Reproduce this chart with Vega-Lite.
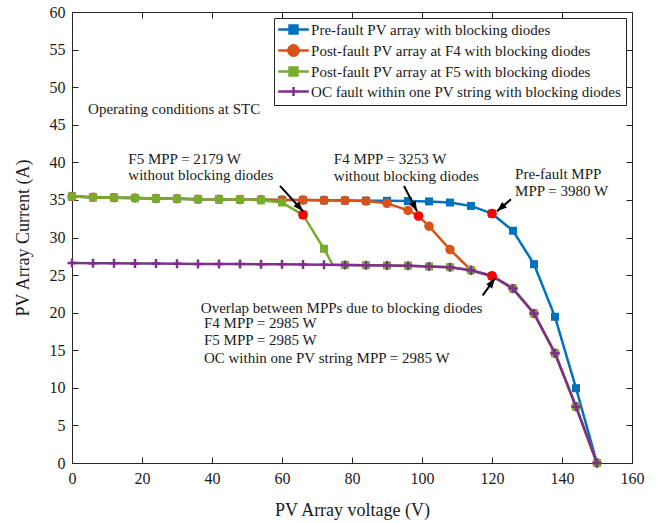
{
  "$schema": "https://vega.github.io/schema/vega-lite/v6.json",
  "width": 560,
  "height": 451,
  "autosize": {"type": "none"},
  "padding": {"left": 72, "top": 12, "right": 29, "bottom": 60},
  "background": "white",
  "config": {
    "font": "Liberation Serif",
    "view": {"stroke": "#262626", "strokeWidth": 1},
    "axis": {
      "labelFont": "Liberation Serif",
      "labelFontSize": 16,
      "labelColor": "#1a1a1a",
      "labelFlush": false,
      "titleFont": "Liberation Serif",
      "titleFontSize": 18,
      "titleFontWeight": "normal",
      "titleColor": "#1a1a1a",
      "gridColor": "#d9d9d9",
      "gridWidth": 1,
      "tickColor": "#262626",
      "domainColor": "#262626",
      "tickSize": -6,
      "labelPadding": 13,
      "zindex": 0
    },
    "legend": {
      "orient": "top-right",
      "offset": 6,
      "fillColor": "white",
      "strokeColor": "#262626",
      "padding": 4,
      "rowPadding": 1,
      "labelFont": "Liberation Serif",
      "labelFontSize": 15,
      "labelColor": "#1a1a1a",
      "labelLimit": 0,
      "symbolSize": 150,
      "symbolStrokeWidth": 2.5,
      "symbolOffset": 8,
      "labelOffset": 10.1
    }
  },
  "datasets": {
    "prefault": [
      {"V": 0, "I": 35.45}, {"V": 6, "I": 35.35}, {"V": 12, "I": 35.3}, {"V": 18, "I": 35.25},
      {"V": 24, "I": 35.2}, {"V": 30, "I": 35.15}, {"V": 36, "I": 35.1}, {"V": 42, "I": 35.08},
      {"V": 48, "I": 35.05}, {"V": 54, "I": 35.02}, {"V": 60, "I": 35.0}, {"V": 66, "I": 34.98},
      {"V": 72, "I": 34.95}, {"V": 78, "I": 34.93}, {"V": 84, "I": 34.9}, {"V": 90, "I": 34.88},
      {"V": 96, "I": 34.85}, {"V": 102, "I": 34.8}, {"V": 108, "I": 34.65}, {"V": 114, "I": 34.2},
      {"V": 120, "I": 33.17}, {"V": 126, "I": 30.9}, {"V": 132, "I": 26.45}, {"V": 138, "I": 19.45},
      {"V": 144, "I": 9.95}, {"V": 150, "I": 0}
    ],
    "f4": [
      {"V": 0, "I": 35.45}, {"V": 6, "I": 35.35}, {"V": 12, "I": 35.3}, {"V": 18, "I": 35.25},
      {"V": 24, "I": 35.2}, {"V": 30, "I": 35.15}, {"V": 36, "I": 35.1}, {"V": 42, "I": 35.08},
      {"V": 48, "I": 35.05}, {"V": 54, "I": 35.02}, {"V": 60, "I": 35.0}, {"V": 66, "I": 34.98},
      {"V": 72, "I": 34.95}, {"V": 78, "I": 34.92}, {"V": 84, "I": 34.85}, {"V": 90, "I": 34.55},
      {"V": 96, "I": 33.6}, {"V": 99, "I": 32.86}, {"V": 102, "I": 31.5}, {"V": 108, "I": 28.4},
      {"V": 114, "I": 25.65}, {"V": 120, "I": 24.875}, {"V": 126, "I": 23.2}, {"V": 132, "I": 19.9},
      {"V": 138, "I": 14.6}, {"V": 144, "I": 7.5}, {"V": 150, "I": 0}
    ],
    "f5": [
      {"V": 0, "I": 35.45}, {"V": 6, "I": 35.35}, {"V": 12, "I": 35.3}, {"V": 18, "I": 35.25},
      {"V": 24, "I": 35.2}, {"V": 30, "I": 35.15}, {"V": 36, "I": 35.1}, {"V": 42, "I": 35.08},
      {"V": 48, "I": 35.05}, {"V": 54, "I": 34.95}, {"V": 60, "I": 34.65}, {"V": 66, "I": 33.02},
      {"V": 72, "I": 28.5}, {"V": 74.5, "I": 26.37}, {"V": 78, "I": 26.35}, {"V": 84, "I": 26.32},
      {"V": 90, "I": 26.28}, {"V": 96, "I": 26.25}, {"V": 102, "I": 26.15}, {"V": 108, "I": 26.05},
      {"V": 114, "I": 25.65}, {"V": 120, "I": 24.875}, {"V": 126, "I": 23.2}, {"V": 132, "I": 19.9},
      {"V": 138, "I": 14.6}, {"V": 144, "I": 7.5}, {"V": 150, "I": 0}
    ],
    "oc": [
      {"V": 0, "I": 26.6}, {"V": 6, "I": 26.58}, {"V": 12, "I": 26.57}, {"V": 18, "I": 26.55},
      {"V": 24, "I": 26.53}, {"V": 30, "I": 26.5}, {"V": 36, "I": 26.49}, {"V": 42, "I": 26.47},
      {"V": 48, "I": 26.46}, {"V": 54, "I": 26.45}, {"V": 60, "I": 26.43}, {"V": 66, "I": 26.4},
      {"V": 72, "I": 26.38}, {"V": 78, "I": 26.35}, {"V": 84, "I": 26.32}, {"V": 90, "I": 26.28},
      {"V": 96, "I": 26.25}, {"V": 102, "I": 26.15}, {"V": 108, "I": 26.05}, {"V": 114, "I": 25.65},
      {"V": 120, "I": 24.875}, {"V": 126, "I": 23.2}, {"V": 132, "I": 19.9}, {"V": 138, "I": 14.6},
      {"V": 144, "I": 7.5}, {"V": 150, "I": 0}
    ],
    "mpp": [
      {"V": 66, "I": 33.02},
      {"V": 99, "I": 32.86},
      {"V": 120, "I": 33.17},
      {"V": 120, "I": 24.875}
    ],
    "boxes": [
      {"x1": 2.5, "x2": 55.5, "y1": 48.7, "y2": 45.3},
      {"x1": 14.6, "x2": 49.5, "y1": 41.75, "y2": 39.3},
      {"x1": 14.6, "x2": 58.0, "y1": 39.3, "y2": 37.1},
      {"x1": 73.7, "x2": 116.6, "y1": 41.75, "y2": 37.1},
      {"x1": 123.7, "x2": 154.3, "y1": 39.9, "y2": 34.7},
      {"x1": 32.6, "x2": 117.1, "y1": 22.15, "y2": 12.85}
    ],
    "notes": [
      {"text": "Operating conditions at STC", "x": 4.6, "y": 47.07},
      {"text": "F5 MPP = 2179 W", "x": 16.1, "y": 40.5},
      {"text": "without blocking diodes", "x": 16.1, "y": 38.28},
      {"text": "F4 MPP = 3253 W", "x": 74.8, "y": 40.4},
      {"text": "without blocking diodes", "x": 74.8, "y": 38.2},
      {"text": "Pre-fault MPP", "x": 126.6, "y": 38.4},
      {"text": "MPP = 3980 W", "x": 126.6, "y": 36.19},
      {"text": "Overlap between MPPs due to blocking diodes", "x": 36.8, "y": 20.67},
      {"text": "F4 MPP = 2985 W", "x": 37.7, "y": 18.67},
      {"text": "F5 MPP = 2985 W", "x": 37.7, "y": 16.35},
      {"text": "OC within one PV string MPP = 2985 W", "x": 37.7, "y": 14.0}
    ],
    "arrows": [
      {"id": "f5", "x": 59.43, "y": 36.86, "x2": 66.0, "y2": 33.49},
      {"id": "f4", "x": 94.86, "y": 36.86, "x2": 98.57, "y2": 33.49},
      {"id": "pre", "x": 125.43, "y": 35.09, "x2": 121.43, "y2": 33.49},
      {"id": "oc", "x": 117.34, "y": 22.3, "x2": 120.86, "y2": 24.57}
    ]
  },
  "layer": [
    {
      "data": {"name": "boxes"},
      "mark": {"type": "rect", "color": "white"},
      "encoding": {
        "x": {"field": "x1", "type": "quantitative", "scale": {"domain": [0, 160], "nice": false, "zero": false},
              "axis": {"orient": "top", "values": [0, 20, 40, 60, 80, 100, 120, 140, 160], "labels": false, "grid": false, "domain": false, "title": null}},
        "x2": {"field": "x2"},
        "y": {"field": "y1", "type": "quantitative", "scale": {"domain": [0, 60], "nice": false, "zero": false},
              "axis": {"orient": "right", "values": [0, 5, 10, 15, 20, 25, 30, 35, 40, 45, 50, 55, 60], "labels": false, "grid": false, "domain": false, "title": null}},
        "y2": {"field": "y2"}
      }
    },
    {
      "data": {"name": "prefault"},
      "mark": {"type": "line", "strokeWidth": 2.5},
      "encoding": {
        "x": {"field": "V", "type": "quantitative",
              "axis": {"orient": "bottom", "values": [0, 20, 40, 60, 80, 100, 120, 140, 160], "title": "PV Array voltage (V)", "titlePadding": 15}},
        "y": {"field": "I", "type": "quantitative",
              "axis": {"orient": "left", "values": [0, 5, 10, 15, 20, 25, 30, 35, 40, 45, 50, 55, 60], "title": "PV Array Current (A)", "titlePadding": 17}},
        "color": {
          "datum": "Pre-fault PV array with blocking diodes",
          "scale": {
            "domain": [
              "Pre-fault PV array with blocking diodes",
              "Post-fault PV array at F4 with blocking diodes",
              "Post-fault PV array at F5 with blocking diodes",
              "OC fault within one PV string with blocking diodes"
            ],
            "range": ["#0072BD", "#D95319", "#77AC30", "#7E2F8E"]
          },
          "legend": {
            "title": null,
            "encode": {
              "symbols": {
                "update": {
                  "shape": {"signal": "datum.value === 'Pre-fault PV array with blocking diodes' || datum.value === 'Post-fault PV array at F5 with blocking diodes' ? 'M-2.5,0H2.5M-0.65,-0.65H0.65V0.65H-0.65Z' : datum.value === 'Post-fault PV array at F4 with blocking diodes' ? 'M-2.5,0H2.5M-0.85,0A0.85,0.85,0,1,0,0.85,0A0.85,0.85,0,1,0,-0.85,0Z' : 'M-2.5,0H2.5M0,-0.72V0.72'"},
                  "fill": {"signal": "scale('color', datum.value)"},
                  "stroke": {"signal": "scale('color', datum.value)"},
                  "strokeWidth": {"value": 2.5}
                }
              }
            }
          }
        }
      }
    },
    {
      "data": {"name": "prefault"},
      "transform": [{"filter": "datum.V % 6 == 0"}],
      "mark": {"type": "point", "shape": "square", "filled": true, "size": 64, "opacity": 1},
      "encoding": {
        "x": {"field": "V", "type": "quantitative", "axis": null},
        "y": {"field": "I", "type": "quantitative", "axis": null},
        "color": {"datum": "Pre-fault PV array with blocking diodes", "legend": null}
      }
    },
    {
      "data": {"name": "f4"},
      "mark": {"type": "line", "strokeWidth": 2.5},
      "encoding": {
        "x": {"field": "V", "type": "quantitative", "axis": null},
        "y": {"field": "I", "type": "quantitative", "axis": null},
        "color": {"datum": "Post-fault PV array at F4 with blocking diodes", "legend": null}
      }
    },
    {
      "data": {"name": "f4"},
      "transform": [{"filter": "datum.V % 6 == 0"}],
      "mark": {"type": "point", "shape": "circle", "filled": true, "size": 90, "opacity": 1},
      "encoding": {
        "x": {"field": "V", "type": "quantitative", "axis": null},
        "y": {"field": "I", "type": "quantitative", "axis": null},
        "color": {"datum": "Post-fault PV array at F4 with blocking diodes", "legend": null}
      }
    },
    {
      "data": {"name": "f5"},
      "mark": {"type": "line", "strokeWidth": 2.5},
      "encoding": {
        "x": {"field": "V", "type": "quantitative", "axis": null},
        "y": {"field": "I", "type": "quantitative", "axis": null},
        "color": {"datum": "Post-fault PV array at F5 with blocking diodes", "legend": null}
      }
    },
    {
      "data": {"name": "f5"},
      "transform": [{"filter": "datum.V % 6 == 0"}],
      "mark": {"type": "point", "shape": "square", "filled": true, "size": 64, "opacity": 1},
      "encoding": {
        "x": {"field": "V", "type": "quantitative", "axis": null},
        "y": {"field": "I", "type": "quantitative", "axis": null},
        "color": {"datum": "Post-fault PV array at F5 with blocking diodes", "legend": null}
      }
    },
    {
      "data": {"name": "oc"},
      "mark": {"type": "line", "strokeWidth": 2.5},
      "encoding": {
        "x": {"field": "V", "type": "quantitative", "axis": null},
        "y": {"field": "I", "type": "quantitative", "axis": null},
        "color": {"datum": "OC fault within one PV string with blocking diodes", "legend": null}
      }
    },
    {
      "data": {"name": "oc"},
      "transform": [{"filter": "datum.V % 6 == 0"}],
      "mark": {"type": "point", "shape": "M-1,0H1M0,-1V1", "filled": false, "size": 81, "strokeWidth": 2.5, "opacity": 1},
      "encoding": {
        "x": {"field": "V", "type": "quantitative", "axis": null},
        "y": {"field": "I", "type": "quantitative", "axis": null},
        "color": {"datum": "OC fault within one PV string with blocking diodes", "legend": null}
      }
    },
    {
      "data": {"name": "mpp"},
      "mark": {"type": "point", "shape": "circle", "filled": true, "size": 95, "color": "#ff0000", "opacity": 1},
      "encoding": {
        "x": {"field": "V", "type": "quantitative", "axis": null},
        "y": {"field": "I", "type": "quantitative", "axis": null}
      }
    },
    {
      "data": {"name": "arrows"},
      "mark": {"type": "rule", "color": "black", "strokeWidth": 2},
      "encoding": {
        "x": {"field": "x", "type": "quantitative", "axis": null},
        "y": {"field": "y", "type": "quantitative", "axis": null},
        "x2": {"field": "x2"},
        "y2": {"field": "y2"}
      }
    },
    {
      "data": {"name": "arrows"},
      "transform": [{"filter": "datum.id == 'f5'"}],
      "mark": {"type": "point", "shape": "M0,0L-0.42,1.15L0.42,1.15Z", "filled": true, "size": 300, "color": "black", "opacity": 1, "angle": 137.7},
      "encoding": {
        "x": {"field": "x2", "type": "quantitative", "axis": null},
        "y": {"field": "y2", "type": "quantitative", "axis": null}
      }
    },
    {
      "data": {"name": "arrows"},
      "transform": [{"filter": "datum.id == 'f4'"}],
      "mark": {"type": "point", "shape": "M0,0L-0.42,1.15L0.42,1.15Z", "filled": true, "size": 300, "color": "black", "opacity": 1, "angle": 152.8},
      "encoding": {
        "x": {"field": "x2", "type": "quantitative", "axis": null},
        "y": {"field": "y2", "type": "quantitative", "axis": null}
      }
    },
    {
      "data": {"name": "arrows"},
      "transform": [{"filter": "datum.id == 'pre'"}],
      "mark": {"type": "point", "shape": "M0,0L-0.42,1.15L0.42,1.15Z", "filled": true, "size": 300, "color": "black", "opacity": 1, "angle": 229.4},
      "encoding": {
        "x": {"field": "x2", "type": "quantitative", "axis": null},
        "y": {"field": "y2", "type": "quantitative", "axis": null}
      }
    },
    {
      "data": {"name": "arrows"},
      "transform": [{"filter": "datum.id == 'oc'"}],
      "mark": {"type": "point", "shape": "M0,0L-0.42,1.15L0.42,1.15Z", "filled": true, "size": 300, "color": "black", "opacity": 1, "angle": 35.9},
      "encoding": {
        "x": {"field": "x2", "type": "quantitative", "axis": null},
        "y": {"field": "y2", "type": "quantitative", "axis": null}
      }
    },
    {
      "data": {"name": "notes"},
      "mark": {"type": "text", "align": "left", "baseline": "middle", "font": "Liberation Serif", "fontSize": 15, "color": "#1a1a1a"},
      "encoding": {
        "x": {"field": "x", "type": "quantitative", "axis": null},
        "y": {"field": "y", "type": "quantitative", "axis": null},
        "text": {"field": "text"}
      }
    }
  ]
}
